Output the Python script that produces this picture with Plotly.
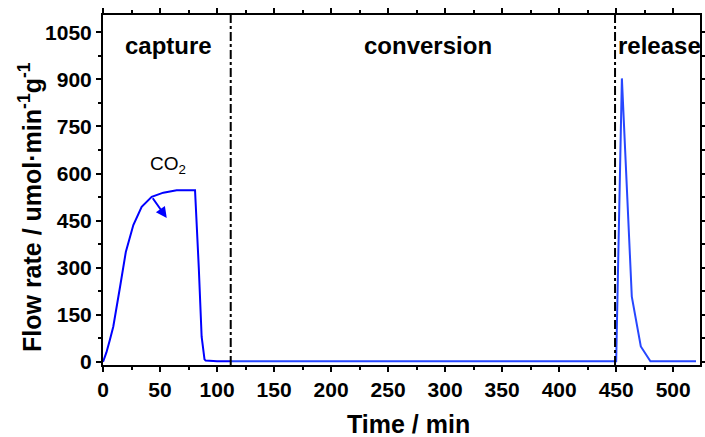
import plotly.graph_objects as go

# ---- data ----
time_capture = [0, 3, 6, 9, 15, 20, 26.6, 33.9, 42.7, 52.9, 64.6, 80.7, 84, 86.5, 89, 90, 100, 112]
flow_capture = [0, 30, 70, 112, 240, 350, 436, 494, 526, 539, 547, 547, 300, 80, 8, 4, 2, 2]

time_rest = [112, 200, 300, 400, 450, 455, 463.7, 471.6, 480, 500, 520]
flow_rest = [2, 2, 2, 2, 2, 903, 208, 49, 2, 2, 2]

phase_boundaries = [112, 449]
phase_labels = ["capture", "conversion", "release"]
phase_label_x = [57, 285, 488]
phase_label_y = 1008

co2_label_pos = (57, 627)
co2_arrow_tail = (42.7, 526)
co2_arrow_head = (55.9, 458)

x_tick_vals = [0, 50, 100, 150, 200, 250, 300, 350, 400, 450, 500]
y_tick_vals = [0, 150, 300, 450, 600, 750, 900, 1050]

x_title = "Time / min"
y_title = "Flow rate / umol·min<sup>-1</sup>g<sup>-1</sup>"

FONT = "Arial, 'Liberation Sans', sans-serif"

fig = go.Figure()
fig.add_trace(go.Scatter(x=time_capture, y=flow_capture, mode="lines",
                         line=dict(color="#0000ff", width=2), showlegend=False))
fig.add_trace(go.Scatter(x=time_rest, y=flow_rest, mode="lines",
                         line=dict(color="#2747ff", width=2), showlegend=False))

for xb in phase_boundaries:
    fig.add_shape(type="line", xref="x", yref="paper", x0=xb, x1=xb, y0=0, y1=1,
                  line=dict(color="black", width=2, dash="dashdot"))

for lab, lx in zip(phase_labels, phase_label_x):
    fig.add_annotation(x=lx, y=phase_label_y, xref="x", yref="y", text=lab,
                       showarrow=False,
                       font=dict(family=FONT, size=24, color="black", weight="bold"))

fig.add_annotation(x=co2_label_pos[0], y=co2_label_pos[1], xref="x", yref="y",
                   text="CO<sub>2</sub>", showarrow=False,
                   font=dict(family=FONT, size=19, color="black"))
fig.add_annotation(x=co2_arrow_head[0], y=co2_arrow_head[1], xref="x", yref="y",
                   ax=co2_arrow_tail[0], ay=co2_arrow_tail[1], axref="x", ayref="y",
                   text="", showarrow=True, arrowhead=2, arrowsize=1.1, arrowwidth=2,
                   arrowcolor="#0000ff")

# axis titles as annotations (paper coords) for precise placement
fig.add_annotation(x=(408 - 103) / 597, y=-(424 - 365) / 350, xref="paper", yref="paper",
                   text=x_title, showarrow=False, xanchor="center", yanchor="middle",
                   font=dict(family=FONT, size=25, color="black", weight="bold"))
fig.add_annotation(x=-(103 - 30) / 597, y=(365 - 207) / 350, xref="paper", yref="paper",
                   text=y_title, showarrow=False, textangle=-90,
                   xanchor="center", yanchor="middle",
                   font=dict(family=FONT, size=25, color="black", weight="bold"))

axis_common = dict(showline=True, linecolor="black", linewidth=2, mirror="allticks",
                   ticks="outside", ticklen=5, tickwidth=2, tickcolor="black",
                   showgrid=False, zeroline=False, automargin=False,
                   tickfont=dict(family=FONT, size=21, color="black", weight="bold"))

fig.update_xaxes(range=[0, 523.5], tickvals=x_tick_vals,
                 minor=dict(dtick=25, ticks="outside", ticklen=3, tickwidth=1.5, tickcolor="black"),
                 **axis_common)
fig.update_yaxes(range=[-10, 1105], tickvals=y_tick_vals,
                 minor=dict(dtick=75, ticks="outside", ticklen=3, tickwidth=1.5, tickcolor="black"),
                 **axis_common)

fig.update_layout(width=705, height=437, margin=dict(l=103, r=5, t=15, b=72),
                  plot_bgcolor="white", paper_bgcolor="white")

fig.write_html("out.html")
